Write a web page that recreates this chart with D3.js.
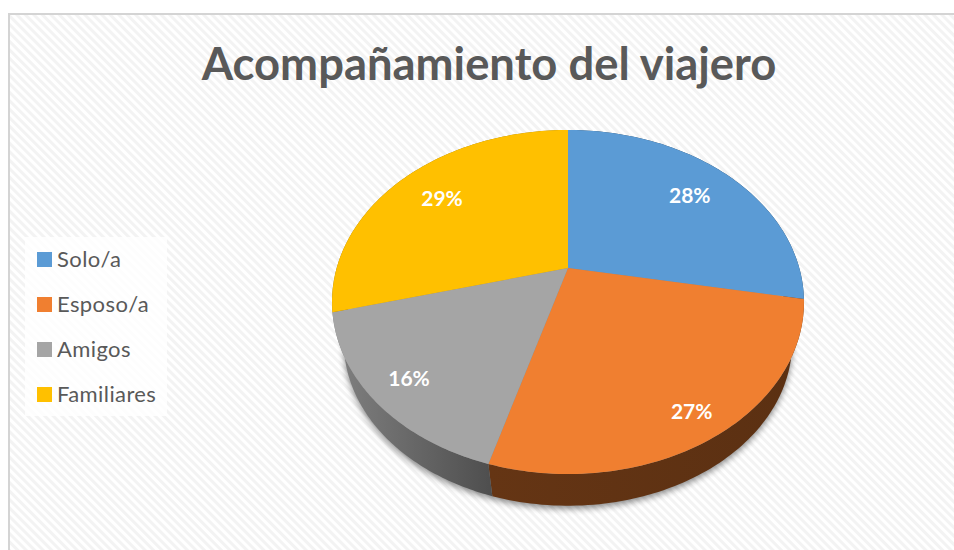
<!DOCTYPE html>
<meta charset="utf-8">
<style>
html, body { margin: 0; padding: 0; background: #fff; }
svg { display: block; }
text { font-family: Lato, "Open Sans", sans-serif; }
</style>
<body>
<script src="https://cdn.jsdelivr.net/npm/d3@7"></script>
<script>
var chartTitle = "Acompañamiento del viajero";
var categories = ["Solo/a", "Esposo/a", "Amigos", "Familiares"];
var shares = [27.9, 26.6, 16.4, 29.1];
var colors = ["#5B9BD5", "#F07F30", "#A5A5A5", "#FFC000"];

var width = 954, height = 550;

var svg = d3.select("body").append("svg")
    .attr("width", width)
    .attr("height", height);

var defs = svg.append("defs");

var stripes = defs.append("pattern")
    .attr("id", "stripes")
    .attr("patternUnits", "userSpaceOnUse")
    .attr("width", 6)
    .attr("height", 6)
    .attr("patternTransform", "rotate(-45)");
stripes.append("rect").attr("width", 6).attr("height", 6).attr("fill", "#fff");
stripes.append("rect").attr("width", 3).attr("height", 6).attr("fill", "#f3f3f3");

defs.append("filter")
    .attr("id", "soft")
    .attr("x", "-10%").attr("y", "-10%")
    .attr("width", "120%").attr("height", "120%")
    .append("feGaussianBlur")
    .attr("stdDeviation", 3);

// chart area
svg.append("rect")
    .attr("x", 9).attr("y", 14)
    .attr("width", width).attr("height", height)
    .attr("fill", "url(#stripes)")
    .attr("stroke", "#d4d4d4")
    .attr("stroke-width", 2);

svg.append("text")
    .attr("x", 489)
    .attr("y", 80)
    .attr("text-anchor", "middle")
    .attr("font-size", 45.4)
    .attr("font-weight", 700)
    .attr("fill", "#595959")
    .text(chartTitle);

// tilted pie: unit disc seen with perspective
var cx = 568, cy = 268, rx = 231.3, ry = 165.3, persp = 0.1977;
var lowerCy = 310, lowerScale = 0.95;

function upperPoint(a, f) {
    var u = Math.sin(a) * f, v = -Math.cos(a) * f, w = 1 - persp * v;
    return [cx + rx * u / w, cy + ry * v / w];
}
function lowerPoint(a) {
    var u = Math.sin(a), v = -Math.cos(a), w = 1 - persp * v;
    return [cx + lowerScale * rx * u / w, lowerCy + lowerScale * ry * v / w];
}
function arcAngles(d) {
    return d3.range(0, 81).map(function(i) {
        return d.startAngle + (d.endAngle - d.startAngle) * i / 80; });
}

var pie = d3.pie().sort(null).value(Object);
var slices = pie(shares);
var line = d3.line();
var color = d3.scaleOrdinal(categories, colors);

function shade(c, f) {
    var r = d3.rgb(c);
    return d3.rgb(r.r * f, r.g * f, r.b * f).formatHex();
}

// soft shadow under the wall
svg.append("path")
    .attr("d", line(d3.range(0, 181).map(function(i) {
        var p = lowerPoint(i / 180 * 2 * Math.PI);
        return [p[0], p[1] + 3]; })) + "Z")
    .attr("fill", "#000")
    .attr("opacity", 0.45)
    .attr("filter", "url(#soft)");

var wallShades = [[0.45, 0.42], [0.42, 0.38], [0.78, 0.47], [0.6, 0.6]];
slices.forEach(function(d, i) {
    var g = defs.append("linearGradient")
        .attr("id", "wall" + i);
    g.append("stop").attr("offset", 0).attr("stop-color", shade(colors[i], wallShades[i][0]));
    g.append("stop").attr("offset", 1).attr("stop-color", shade(colors[i], wallShades[i][1]));
});

svg.append("g").selectAll("path")
    .data(slices)
    .enter()
    .append("path")
    .attr("fill", function(d, i) { return "url(#wall" + i + ")"; })
    .attr("d", function(d) {
        var a = arcAngles(d);
        return line(a.map(function(t) { return upperPoint(t, 1); })
            .concat(a.slice().reverse().map(lowerPoint))) + "Z";
    });

svg.append("g").selectAll("path")
    .data(slices)
    .enter()
    .append("path")
    .attr("fill", function(d, i) { return color(categories[i]); })
    .attr("d", function(d) {
        var pts = [upperPoint(0, 0)].concat(arcAngles(d).map(function(t) { return upperPoint(t, 1); }));
        return line(pts) + "Z";
    });

// percent labels, pushed outward on the near side of the disc
svg.append("g").selectAll("text")
    .data(slices)
    .enter()
    .append("text")
    .attr("transform", function(d) {
        var mid = (d.startAngle + d.endAngle) / 2;
        var f = 0.75 + 0.14 * Math.max(0, -Math.cos(mid));
        return "translate(" + upperPoint(mid, f) + ")";
    })
    .attr("text-anchor", "middle")
    .attr("dy", "0.35em")
    .attr("font-size", 21)
    .attr("font-weight", 700)
    .attr("fill", "#fff")
    .text(function(d) { return Math.round(d.value) + "%"; });

// legend
svg.append("rect")
    .attr("x", 25).attr("y", 237)
    .attr("width", 142).attr("height", 179)
    .attr("fill", "#fff")
    .attr("opacity", 0.8);

var legendY = d3.scalePoint()
    .domain(categories)
    .range([259.5, 394.5]);

var legend = svg.append("g").selectAll("g")
    .data(categories)
    .enter()
    .append("g")
    .attr("transform", function(d) { return "translate(37," + legendY(d) + ")"; });

legend.append("rect")
    .attr("y", -7.5)
    .attr("width", 15)
    .attr("height", 15)
    .attr("fill", color);

legend.append("text")
    .attr("x", 20)
    .attr("dy", "0.35em")
    .attr("font-size", 22)
    .attr("letter-spacing", 0.4)
    .attr("fill", "#595959")
    .text(Object);
</script>
